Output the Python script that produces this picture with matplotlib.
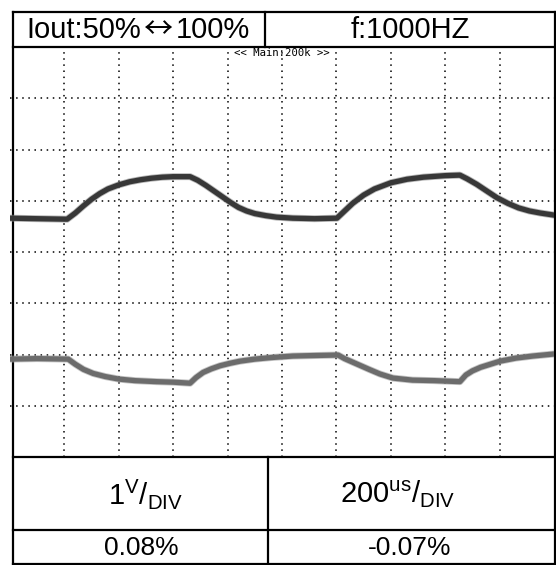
import matplotlib
matplotlib.use('Agg')
from matplotlib import pyplot as plt

plt.rcParams['font.family'] = ['Liberation Sans', 'DejaVu Sans']
plt.rcParams['mathtext.fontset'] = 'custom'
plt.rcParams['mathtext.rm'] = 'Liberation Sans'
plt.rcParams['mathtext.it'] = 'Liberation Sans:italic'

# trace data, x in divisions (0..10), y in divisions (0..8)
ch1_t = [0, 0.5, 1.05, 1.2, 1.35, 1.5, 1.65, 1.8, 2.0, 2.2, 2.4, 2.6, 2.8, 3.0, 3.31,
         3.45, 3.6, 3.75, 3.9, 4.05, 4.2, 4.35, 4.5, 4.7, 4.9, 5.2, 5.6, 6.01,
         6.15, 6.3, 6.5, 6.7, 7.0, 7.3, 7.6, 8.0, 8.27,
         8.4, 8.58, 8.75, 8.95, 9.15, 9.35, 9.55, 9.75, 10]
ch1_v = [4.66, 4.65, 4.64, 4.76, 4.90, 5.03, 5.14, 5.23, 5.31, 5.37, 5.41, 5.44, 5.46, 5.47, 5.47,
         5.40, 5.30, 5.19, 5.08, 4.97, 4.87, 4.80, 4.75, 4.71, 4.68, 4.66, 4.65, 4.66,
         4.80, 4.95, 5.11, 5.23, 5.35, 5.42, 5.46, 5.49, 5.50,
         5.43, 5.32, 5.20, 5.06, 4.95, 4.86, 4.80, 4.76, 4.72]

ch2_t = [0, 0.5, 1.07, 1.2, 1.35, 1.53, 1.75, 2.0, 2.3, 2.7, 3.0, 3.31,
         3.42, 3.55, 3.7, 3.86, 4.05, 4.23, 4.5, 4.8, 5.2, 5.6, 6.03,
         6.15, 6.3, 6.45, 6.6, 6.8, 7.04, 7.4, 7.8, 8.27,
         8.38, 8.5, 8.65, 8.8, 9.01, 9.3, 9.61, 10]
ch2_v = [1.91, 1.92, 1.91, 1.81, 1.71, 1.63, 1.57, 1.52, 1.49, 1.47, 1.46, 1.44,
         1.55, 1.65, 1.72, 1.78, 1.83, 1.87, 1.91, 1.94, 1.97, 1.98, 1.99,
         1.92, 1.85, 1.78, 1.71, 1.62, 1.54, 1.50, 1.49, 1.47,
         1.60, 1.68, 1.75, 1.80, 1.87, 1.93, 1.97, 2.01]

title_left = ['Iout:50%', '\u2194', '100%']
title_right = 'f:1000HZ'
scale_left = r'$\mathrm{1^{V}/_{DIV}}$'
scale_right = r'$\mathrm{200^{us}/_{DIV}}$'
val_left = '0.08%'
val_right = '-0.07%'
banner = '<< Main:200k >>'

W, H = 556, 565
fig = plt.figure(figsize=(W / 100, H / 100), dpi=100)

# background layer in pixel coordinates
bg = fig.add_axes([0, 0, 1, 1])
bg.set_xlim(0, W)
bg.set_ylim(H, 0)
bg.axis('off')

# scope screen
ax = fig.add_axes([10 / W, (H - 457) / H, 544 / W, 410 / H])
ax.set_xlim(0, 10)
ax.set_ylim(0, 8)
ax.patch.set_alpha(0)
for s in ax.spines.values():
    s.set_visible(False)
ax.set_xticks([])
ax.set_yticks([])
for i in range(1, 10):
    ax.axvline(i, color='black', lw=1.1, ls=(0, (1, 3)))
for j in range(1, 8):
    ax.axhline(j, color='black', lw=1.1, ls=(0, (1, 3)))

# slightly fuzzy traces: light halo under a darker core
ax.plot(ch1_t, ch1_v, color='#8a8a8a', lw=5.0, alpha=0.6)
ax.plot(ch1_t, ch1_v, color='#383838', lw=3.8)
ax.plot(ch2_t, ch2_v, color='#a0a0a0', lw=5.0, alpha=0.6)
ax.plot(ch2_t, ch2_v, color='#6c6c6c', lw=3.8)
ax.text(5, 7.88, banner, family='DejaVu Sans Mono', fontsize=7.7, ha='center', va='center')

# frame and table lines
lw = 1.6
bg.plot([13, 555], [12, 12], color='black', lw=lw)
bg.plot([13, 13], [12, 565], color='black', lw=lw)
bg.plot([555, 555], [12, 565], color='black', lw=lw)
bg.plot([13, 555], [47, 47], color='black', lw=lw)
bg.plot([13, 555], [457, 457], color='black', lw=lw)
bg.plot([13, 555], [530, 530], color='black', lw=lw)
bg.plot([13, 555], [564, 564], color='black', lw=lw)
bg.plot([265, 265], [12, 47], color='black', lw=lw)
bg.plot([268, 268], [457, 565], color='black', lw=lw)

bg.text(141, 30, title_left[0], fontsize=21, ha='right', va='center')
bg.text(159, 30, title_left[1], family='Noto Sans CJK JP', fontsize=21, ha='center', va='center')
bg.text(176, 30, title_left[2], fontsize=21, ha='left', va='center')
bg.text(410, 30, title_right, fontsize=21, ha='center', va='center')
bg.text(146, 494, scale_left, fontsize=21, ha='center', va='center')
bg.text(398, 494, scale_right, fontsize=21, ha='center', va='center')
bg.text(141, 548, val_left, fontsize=19, ha='center', va='center')
bg.text(410, 548, val_right, fontsize=19, ha='center', va='center')

fig.savefig('out.png', dpi=100)
